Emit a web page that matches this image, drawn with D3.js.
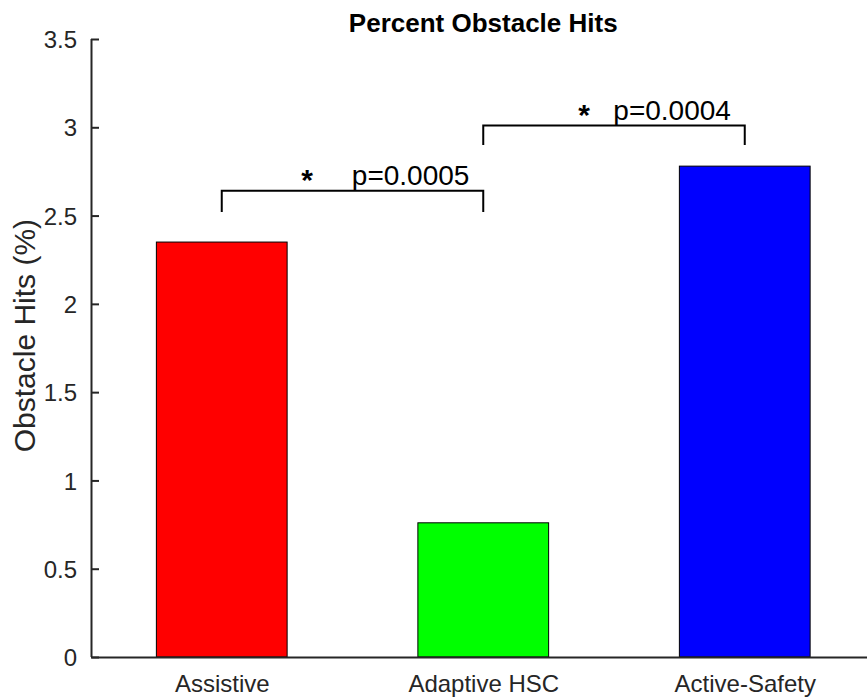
<!DOCTYPE html>
<html>
<head>
<meta charset="utf-8">
<script src="https://cdn.jsdelivr.net/npm/d3@7"></script>
<style>
  body { margin: 0; background: #fff; }
  svg text { font-family: "Liberation Sans", Arial, Helvetica, sans-serif; }
</style>
</head>
<body>
<div id="chart"></div>
<script>
const categories = ["Assistive", "Adaptive HSC", "Active-Safety"];
const values = [2.35, 0.76, 2.78];
const barColors = ["#ff0000", "#00ff00", "#0000ff"];
const yTicks = [0, 0.5, 1, 1.5, 2, 2.5, 3, 3.5];
// significance brackets: group indices, leg bottom, bracket top, label
const comparisons = [
    { from: 1, to: 2, base: 2.52, top: 2.64, label: "p=0.0005", spaces: 5 },
    { from: 2, to: 3, base: 2.90, top: 3.01, label: "p=0.0004", spaces: 3 }
];

function drawChart() {
    const width = 867, height = 698;
    const margin = { top: 39, left: 91, bottom: 41 };

    const svg = d3.select("#chart")
        .append("svg")
        .attr("width", width)
        .attr("height", height);

    const x = d3.scaleLinear()
        .domain([0.5, 3.5])
        .range([margin.left, margin.left + 784.5]);

    const y = d3.scaleLinear()
        .domain([0, 3.5])
        .range([height - margin.bottom, margin.top]);

    const axisColor = "#262626";

    // bars
    svg.append("g")
        .selectAll("rect")
        .data(values)
        .join("rect")
        .attr("x", (d, i) => x(i + 1 - 0.25))
        .attr("y", d => y(d))
        .attr("width", x(1.25) - x(0.75))
        .attr("height", d => y(0) - y(d))
        .attr("fill", (d, i) => barColors[i])
        .attr("stroke", "#000")
        .attr("stroke-width", 1);

    // y axis, ticks pointing inward
    const yAxis = svg.append("g")
        .attr("transform", `translate(${margin.left},0)`)
        .call(d3.axisRight(y).tickValues(yTicks).tickSize(8).tickFormat(d3.format("")));
    yAxis.select(".domain").attr("stroke", axisColor).attr("stroke-width", 2)
        .attr("d", `M0.5,${y(3.5)}V${y(0)}`);
    yAxis.selectAll(".tick line").attr("stroke", axisColor).attr("stroke-width", 2);
    yAxis.selectAll(".tick text")
        .attr("x", -14)
        .attr("dy", "0.36em")
        .attr("text-anchor", "end")
        .attr("fill", axisColor)
        .style("font-size", "24px");

    // x axis
    const xAxis = svg.append("g")
        .attr("transform", `translate(0,${y(0)})`)
        .call(d3.axisBottom(x).tickValues([1, 2, 3]).tickSize(0)
            .tickFormat(d => categories[d - 1]));
    xAxis.select(".domain").attr("stroke", axisColor).attr("stroke-width", 2);
    xAxis.selectAll(".tick text")
        .attr("y", 35)
        .attr("dy", 0)
        .attr("fill", axisColor)
        .style("font-size", "24px");

    // significance brackets
    const br = svg.append("g");
    br.selectAll("path")
        .data(comparisons)
        .join("path")
        .attr("fill", "none")
        .attr("stroke", "#000")
        .attr("stroke-width", 2)
        .attr("d", d => `M${x(d.from)},${y(d.base)}V${y(d.top)}H${x(d.to)}V${y(d.base)}`);

    const labels = br.selectAll("text")
        .data(comparisons)
        .join("text")
        .attr("x", d => x((d.from + d.to) / 2 + 0.447))
        .attr("y", d => y(d.top) - 6)
        .attr("text-anchor", "end")
        .style("font-size", "28px")
        .style("white-space", "pre")
        .attr("fill", "#000");
    labels.append("tspan")
        .style("font-weight", "bold")
        .style("font-size", "30px")
        .attr("dy", 5)
        .text("*");
    labels.append("tspan")
        .attr("dy", -5)
        .text(d => " ".repeat(d.spaces) + d.label);

    // title
    svg.append("text")
        .attr("x", x(2))
        .attr("y", 32)
        .attr("text-anchor", "middle")
        .style("font-size", "26px")
        .style("font-weight", "bold")
        .attr("fill", "#000")
        .text("Percent Obstacle Hits");

    // y label
    svg.append("text")
        .attr("transform", `translate(35,${y(1.82)}) rotate(-90)`)
        .attr("text-anchor", "middle")
        .style("font-size", "30px")
        .attr("fill", axisColor)
        .text("Obstacle Hits (%)");
}

document.addEventListener("DOMContentLoaded", function () {
    drawChart();
});
</script>
</body>
</html>
